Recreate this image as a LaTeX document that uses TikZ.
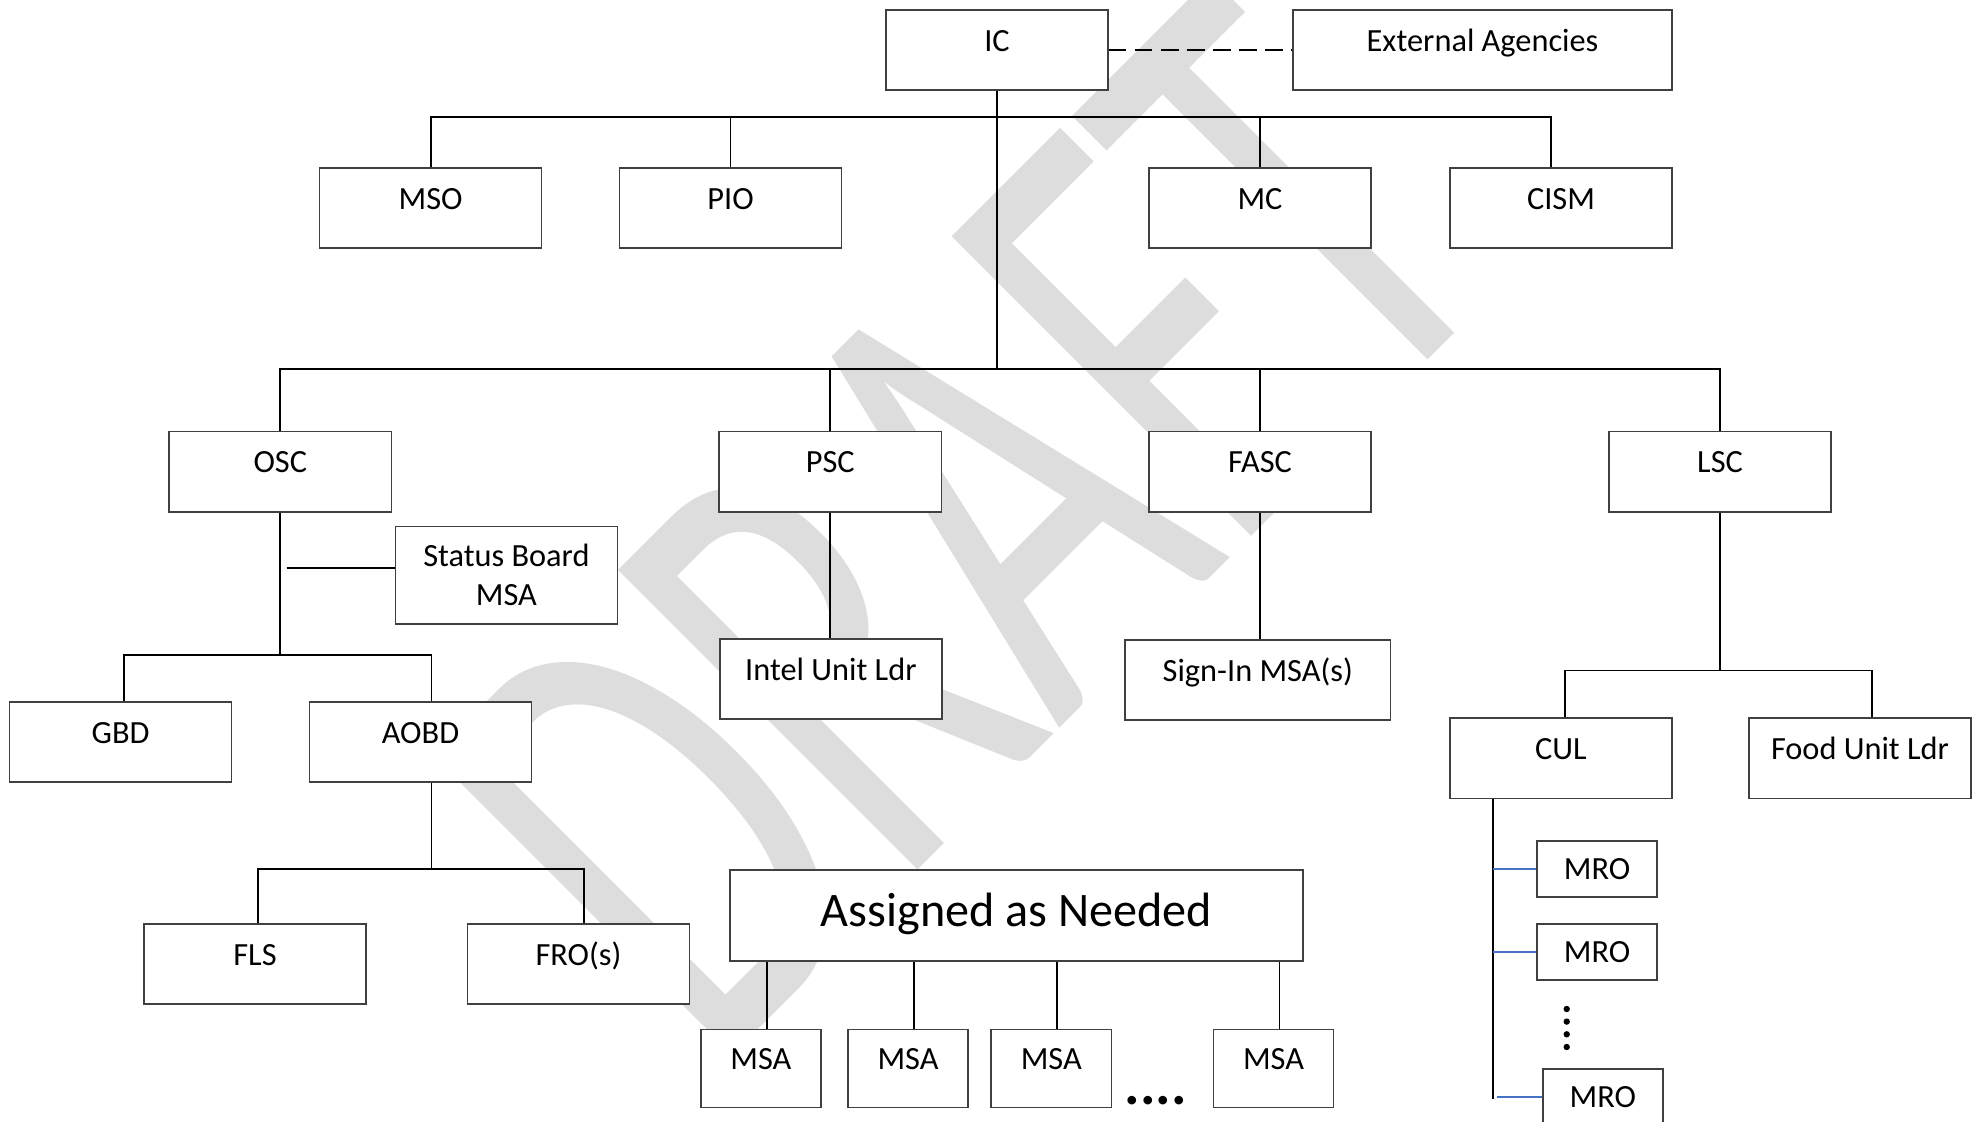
\documentclass[tikz,border=0pt]{standalone}
\usepackage{fontspec}
\setmainfont{Carlito}
\usepackage{graphicx}
\definecolor{wmgray}{RGB}{221,221,221}
\definecolor{mroblue}{RGB}{68,114,196}

\begin{document}
\begin{tikzpicture}[x=0.01cm, y=-0.01cm,
	plainbox/.style={draw=black!75, line width=0.45pt, fill=white, inner sep=0pt,
		minimum width=2.22cm, minimum height=0.8cm, font=\fontsize{9.2pt}{11pt}\selectfont},
	box/.style={plainbox, text height=0.23cm, text depth=0.206cm},
	mrobox/.style={plainbox, minimum width=1.2cm, minimum height=0.56cm, text height=0.2cm, text depth=0cm},
	msabox/.style={box, minimum width=1.2cm, minimum height=0.78cm},
	link/.style={line width=0.55pt},
	mrolink/.style={line width=0.6pt, draw=mroblue}]
\useasboundingbox (0,0) rectangle (1980,1122);
\clip (0,0) rectangle (1980,1122);
% watermark
\node[anchor=base west, rotate=45, inner sep=0pt, text=wmgray,
	font=\fontsize{187.8pt}{190pt}\selectfont] (draft) at (712,1076) {\scalebox{0.64}[1]{DRAFT}};
% command
\node[box] (ic) at (997,50) {IC};
\node[box, minimum width=3.79cm] (extag) at (1482.5,50) {External Agencies};
\draw[link, dash pattern=on 5pt off 2.4pt] (ic) -- (extag);
% command staff
\node[box] (mso) at (430.6,208) {MSO};
\node[box] (pio) at (730.5,208) {PIO};
\node[box] (mc) at (1260,208) {MC};
\node[box] (cism) at (1561,208) {CISM};
\coordinate (bus1) at (0,117.4);
\draw[link] (mso.north) -- (mso.north |- bus1) -- ([xshift=-0.1cm]cism.north |- bus1) -- ([xshift=-0.1cm]cism.north);
\draw[link] (pio.north) -- (pio.north |- bus1);
\draw[link] (mc.north) -- (mc.north |- bus1);
% sections
\node[box] (osc) at (280.3,471.7) {OSC};
\node[box] (psc) at (830.3,471.7) {PSC};
\node[box] (fasc) at (1260,471.7) {FASC};
\node[box] (lsc) at (1720,471.7) {LSC};
\coordinate (bus2) at (0,368.7);
\draw[link] (ic.south) -- (ic.south |- bus2);
\draw[link] (osc.north) -- (osc.north |- bus2) -- (lsc.north |- bus2) -- (lsc.north);
\draw[link] (psc.north) -- (psc.north |- bus2);
\draw[link] (fasc.north) -- (fasc.north |- bus2);
% operations
\node[plainbox, minimum height=0.97cm, align=center, font=\fontsize{9.2pt}{11.1pt}\selectfont] (status) at (506.4,575.2) {Status Board\\MSA};
\coordinate (sbjoin) at (286.6,568.3);
\draw[link] (sbjoin) -- (sbjoin -| status.west);
\node[box] (gbd) at (120.6,742) {GBD};
\node[box] (aobd) at (420.5,742) {AOBD};
\coordinate (bus3) at (0,655.4);
\draw[link] (osc.south) -- (osc.south |- bus3);
\draw[link] ([xshift=0.03cm]gbd.north) -- ([xshift=0.03cm]gbd.north |- bus3) -- ([xshift=0.11cm]aobd.north |- bus3) -- ([xshift=0.11cm]aobd.north);
\node[box] (fls) at (255,964) {FLS};
\node[box] (fro) at (578.4,964) {FRO(s)};
\coordinate (bus4) at (0,868.8);
\draw[link] ([xshift=0.11cm]aobd.south) -- ([xshift=0.11cm]aobd.south |- bus4);
\draw[link] ([xshift=0.03cm]fls.north) -- ([xshift=0.03cm]fls.north |- bus4) -- ([xshift=0.06cm]fro.north |- bus4) -- ([xshift=0.06cm]fro.north);
% planning, finance
\node[box] (intel) at (830.9,678.8) {Intel Unit Ldr};
\draw[link] (psc.south) -- (psc.south |- intel.north);
\node[box, minimum width=2.65cm] (signin) at (1257.8,680) {Sign-In MSA(s)};
\draw[link] (fasc.south) -- (fasc.south |- signin.north);
% logistics
\node[box] (cul) at (1560.8,758.3) {CUL};
\node[box] (food) at (1860,758.3) {Food Unit Ldr};
\coordinate (bus5) at (0,670.5);
\draw[link] (lsc.south) -- (lsc.south |- bus5);
\draw[link] ([xshift=0.04cm]cul.north) -- ([xshift=0.04cm]cul.north |- bus5) -- ([xshift=0.115cm]food.north |- bus5) -- ([xshift=0.115cm]food.north);
\node[mrobox] (mro1) at (1597,869) {MRO};
\node[mrobox] (mro2) at (1597,952) {MRO};
\node[mrobox] (mro3) at (1602.8,1097) {MRO};
\coordinate (culstem) at (1492.6,1099);
\draw[link] (cul.south -| culstem) -- (culstem);
\draw[mrolink] (culstem |- mro1.west) -- (mro1.west);
\draw[mrolink] (culstem |- mro2.west) -- (mro2.west);
\draw[mrolink] ([xshift=0.04cm]culstem |- mro3.west) -- (mro3.west);
\foreach \y in {1009,1021.6,1034.3,1047}
	\fill (1566.7,\y) circle[radius=0.032cm];
% assigned as needed
\node[plainbox, minimum width=5.73cm, minimum height=0.91cm, font=\fontsize{13.7pt}{16pt}\selectfont,
	text height=0.30cm, text depth=0.076cm] (assigned) at (1016.5,915.6) {Assigned as Needed};
\node[msabox] (msa1) at (760.9,1068.4) {MSA};
\node[msabox] (msa2) at (908,1068.4) {MSA};
\node[msabox] (msa3) at (1051.3,1068.4) {MSA};
\node[msabox] (msa4) at (1273.5,1068.4) {MSA};
\foreach \n in {1,...,4}
	\draw[link] ([xshift=0.06cm]msa\n.north) -- ([xshift=0.06cm]msa\n.north |- assigned.south);
\node[anchor=base, inner sep=0pt, font=\bfseries\fontsize{16.5pt}{18pt}\selectfont] (more) at (1155.5,1104) {....};
\end{tikzpicture}
\end{document}
